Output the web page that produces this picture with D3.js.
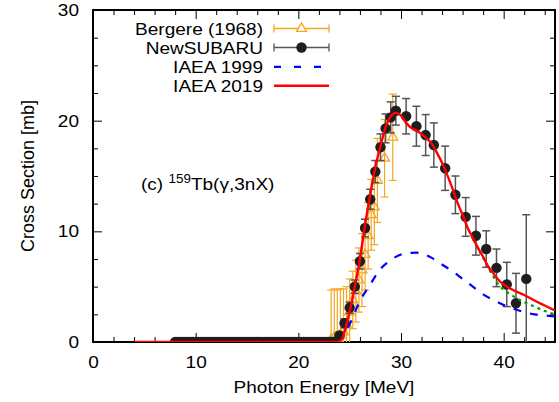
<!DOCTYPE html>
<html lang="en">
<head>
<meta charset="UTF-8">
<title>159Tb(g,3nX) cross section</title>
<script src="https://d3js.org/d3.v7.min.js"></script>
<style>
  body { margin: 0; background: #fff; }
  svg text { font-family: "Liberation Sans", Arial, sans-serif; fill: #000; }
  .axis path { display: none; }
  .axis line { stroke: #000; stroke-width: 1; }
  .axis text { font-size: 17px; }
</style>
</head>
<body>
<div id="chart"></div>
<script>
// NewSUBARU points that sit on zero below threshold
const nsZeroEnergy = [8, 8.25, 8.5, 8.75, 9, 9.25, 9.5, 9.75, 10, 10.25, 10.5, 10.75,
  11, 11.25, 11.5, 11.75, 12, 12.25, 12.5, 12.75, 13, 13.25, 13.5, 13.75, 14, 14.25,
  14.5, 14.75, 15, 15.25, 15.5, 15.75, 16, 16.25, 16.5, 16.75, 17, 17.25, 17.5, 17.75,
  18, 18.25, 18.5, 18.75, 19, 19.25, 19.5, 19.75, 20, 20.25, 20.5, 20.75, 21, 21.25,
  21.5, 21.75, 22, 22.25, 22.5, 22.75, 23, 23.25, 23.5];

// NewSUBARU above threshold
const nsEnergy = [24.0, 24.5, 25.0, 25.5, 26.0, 26.5, 27.0, 27.5, 28.0, 28.5, 29.0, 29.5,
  30.5, 31.5, 32.4, 33.2, 34.3, 35.3, 36.3, 37.3, 38.3, 39.3, 40.3, 41.2, 42.2];
const nsSigma = [0.6, 1.7, 3.1, 5.0, 7.3, 10.3, 12.9, 15.4, 17.6, 19.3, 20.3, 20.9,
  20.4, 19.5, 18.7, 17.8, 15.7, 13.3, 11.3, 9.6, 8.4, 6.7, 5.2, 3.5, 5.7];
const nsError = [0.3, 0.4, 0.5, 0.6, 0.7, 0.8, 0.9, 1.0, 1.2, 1.3, 1.4, 1.3,
  1.6, 1.8, 1.85, 2.0, 2.0, 1.7, 1.75, 1.75, 1.65, 1.7, 2.0, 2.7, 5.8];

// Bergere (1968)
const bgEnergy = [23.2, 23.5, 23.8, 24.1, 24.4, 24.7, 25.0, 25.3, 25.6, 25.9, 26.2,
  26.5, 26.8, 27.1, 27.4, 27.7, 28.4, 29.2];
const bgSigma = [0.2, 0.4, 0.3, 0.6, 0.9, 1.6, 2.7, 3.8, 4.6, 5.6, 6.5,
  7.9, 9.6, 11.5, 12.2, 14.6, 16.6, 18.5];
const bgError = [4.5, 4.4, 4.4, 4.2, 3.9, 3.4, 3.0, 2.6, 2.8, 2.9, 3.3,
  3.2, 3.0, 3.2, 3.4, 3.8, 3.5, 3.9];

// IAEA 1999 evaluation
const iaea1999Energy = [24.0, 24.5, 25.0, 26.0, 27.0, 28.0, 29.0, 30.0, 31.0, 31.5, 32.0,
  33.0, 34.0, 35.0, 36.0, 37.0, 38.0, 39.0, 40.0, 41.0, 42.0, 43.0, 44.0, 45.0];
const iaea1999Sigma = [0.0, 0.7, 1.6, 3.7, 5.2, 6.6, 7.4, 7.9, 8.05, 8.07, 8.0,
  7.6, 7.0, 6.4, 5.7, 5.0, 4.3, 3.8, 3.35, 3.0, 2.7, 2.5, 2.4, 2.3];

// IAEA 2019 evaluation
const iaea2019Energy = [4, 23.8, 24.2, 24.5, 24.8, 25.2, 25.5, 26.0, 26.5, 27.0, 27.5,
  28.0, 28.5, 29.0, 29.5, 30.0, 30.5, 31.0, 31.5, 32.0, 32.5, 33.0, 33.5, 34.0, 34.5,
  35.0, 35.5, 36.0, 36.5, 37.0, 37.5, 38.0, 38.5, 39.0, 39.5, 40.0, 40.5, 41.0, 42.0,
  43.0, 44.0, 45.0];
const iaea2019Sigma = [0, 0, 0.2, 0.9, 2.0, 3.6, 5.0, 7.5, 10.6, 13.3, 15.8,
  17.7, 19.4, 20.4, 20.7, 20.45, 19.8, 19.35, 19.1, 18.8, 18.4, 17.9, 17.1, 16.2, 15.1,
  13.9, 12.6, 11.5, 10.3, 9.4, 8.5, 7.7, 6.8, 6.2, 5.6, 5.2, 4.9, 4.65, 4.25,
  3.75, 3.3, 2.85];

// unlabelled green dotted curve
const greenEnergy = [37.0, 37.5, 38.0, 38.5, 39.0, 39.5, 40.0, 40.5, 41.0, 42.0, 43.0, 44.0, 45.0];
const greenSigma = [9.3, 8.4, 7.6, 6.7, 5.9, 5.2, 4.7, 4.4, 4.1, 3.6, 3.2, 2.8, 2.5];

const xMajor = [0, 10, 20, 30, 40];
const xMinor = [2, 4, 6, 8, 12, 14, 16, 18, 22, 24, 26, 28, 32, 34, 36, 38, 42, 44];
const yMajor = [0, 10, 20, 30];
const yMinor = [2.5, 5, 7.5, 12.5, 15, 17.5, 22.5, 25, 27.5];

const W = 559, H = 402;
const plot = { left: 93, right: 555, top: 10, bottom: 342 };
const stretch = 1.12; // the original lettering is a bit wider than Arial

const svg = d3.select("#chart").append("svg")
  .attr("width", W).attr("height", H);

const x = d3.scaleLinear().domain([0, 45]).range([plot.left, plot.right]);
const y = d3.scaleLinear().domain([0, 30]).range([plot.bottom, plot.top]);

svg.append("defs").append("clipPath").attr("id", "clip")
  .append("rect")
  .attr("x", plot.left).attr("y", plot.top)
  .attr("width", plot.right - plot.left).attr("height", plot.bottom - plot.top);

function widen(sel) {
  sel.selectAll("text").each(function() {
    const x0 = +this.getAttribute("x") || 0;
    d3.select(this).attr("x", 0).attr("transform", `translate(${x0},0) scale(${stretch},1)`);
  });
}

// axes: major and minor ticks point inward, mirrored on top and right
svg.append("g").attr("class", "axis")
  .attr("transform", `translate(0,${plot.bottom})`)
  .call(d3.axisBottom(x).tickValues(xMajor).tickSize(-9).tickPadding(14).tickFormat(d3.format("d")))
  .call(widen);
svg.append("g").attr("class", "axis")
  .attr("transform", `translate(0,${plot.bottom})`)
  .call(d3.axisBottom(x).tickValues(xMinor).tickSize(-5).tickFormat(""));
svg.append("g").attr("class", "axis")
  .attr("transform", `translate(0,${plot.top})`)
  .call(d3.axisTop(x).tickValues(xMajor).tickSize(-9).tickFormat(""));
svg.append("g").attr("class", "axis")
  .attr("transform", `translate(0,${plot.top})`)
  .call(d3.axisTop(x).tickValues(xMinor).tickSize(-5).tickFormat(""));

svg.append("g").attr("class", "axis")
  .attr("transform", `translate(${plot.left},0)`)
  .call(d3.axisLeft(y).tickValues(yMajor).tickSize(-9).tickPadding(14).tickFormat(d3.format("d")))
  .call(widen);
svg.append("g").attr("class", "axis")
  .attr("transform", `translate(${plot.left},0)`)
  .call(d3.axisLeft(y).tickValues(yMinor).tickSize(-5).tickFormat(""));
svg.append("g").attr("class", "axis")
  .attr("transform", `translate(${plot.right},0)`)
  .call(d3.axisRight(y).tickValues(yMajor).tickSize(-9).tickFormat(""));
svg.append("g").attr("class", "axis")
  .attr("transform", `translate(${plot.right},0)`)
  .call(d3.axisRight(y).tickValues(yMinor).tickSize(-5).tickFormat(""));

svg.append("rect")
  .attr("x", plot.left).attr("y", plot.top)
  .attr("width", plot.right - plot.left).attr("height", plot.bottom - plot.top)
  .attr("fill", "none").attr("stroke", "#000").attr("stroke-width", 2);

// axis titles
svg.append("text")
  .attr("transform", `translate(${(plot.left + plot.right) / 2},393) scale(${stretch},1)`)
  .attr("text-anchor", "middle").style("font-size", "17px")
  .text("Photon Energy [MeV]");
svg.append("text")
  .attr("transform", `translate(34,${(plot.top + plot.bottom) / 2}) rotate(-90)`)
  .attr("text-anchor", "middle").style("font-size", "18px")
  .text("Cross Section [mb]");

// annotation
const ann = svg.append("text")
  .attr("transform", `translate(141,190) scale(${stretch},1)`)
  .style("font-size", "17px");
ann.append("tspan").text("(c) ");
ann.append("tspan").attr("dy", -7).style("font-size", "12px").text("159");
ann.append("tspan").attr("dy", 7).text("Tb(γ,3nX)");

const g = svg.append("g").attr("clip-path", "url(#clip)");

const bergere = bgEnergy.map((e, i) => ({ e, s: bgSigma[i], err: bgError[i] }));
const subaru = nsZeroEnergy.map(e => ({ e, s: 0, err: 0 }))
  .concat(nsEnergy.map((e, i) => ({ e, s: nsSigma[i], err: nsError[i] })));

const orange = "#f5a623";
const cap = 4;

function errorBars(sel, data, color, width) {
  const eb = sel.append("g").selectAll("g").data(data.filter(d => d.err > 0)).join("g")
    .attr("stroke", color).attr("stroke-width", width);
  eb.append("line")
    .attr("x1", d => x(d.e)).attr("x2", d => x(d.e))
    .attr("y1", d => y(d.s - d.err)).attr("y2", d => y(d.s + d.err));
  eb.append("line")
    .attr("x1", d => x(d.e) - cap).attr("x2", d => x(d.e) + cap)
    .attr("y1", d => y(d.s + d.err)).attr("y2", d => y(d.s + d.err));
  eb.append("line")
    .attr("x1", d => x(d.e) - cap).attr("x2", d => x(d.e) + cap)
    .attr("y1", d => y(d.s - d.err)).attr("y2", d => y(d.s - d.err));
}

const triangle = d3.symbol().type(d3.symbolTriangle).size(42);

// Bergere
errorBars(g, bergere, orange, 1.2);
g.append("g").selectAll("path").data(bergere).join("path")
  .attr("transform", d => `translate(${x(d.e)},${y(d.s)})`)
  .attr("d", triangle)
  .attr("fill", "none").attr("stroke", orange).attr("stroke-width", 1.3);

// NewSUBARU
errorBars(g, subaru, "#555", 1.5);
g.append("g").selectAll("circle").data(subaru).join("circle")
  .attr("cx", d => x(d.e)).attr("cy", d => y(d.s)).attr("r", 5.2)
  .attr("fill", "#1e1e1e");

const line = d3.line().x(d => x(d[0])).y(d => y(d[1])).curve(d3.curveMonotoneX);

g.append("path")
  .datum(iaea1999Energy.map((e, i) => [e, iaea1999Sigma[i]]))
  .attr("d", line).attr("fill", "none")
  .attr("stroke", "#0000ff").attr("stroke-width", 2.2).attr("stroke-dasharray", "8,9");

g.append("path")
  .datum(greenEnergy.map((e, i) => [e, greenSigma[i]]))
  .attr("d", line).attr("fill", "none")
  .attr("stroke", "#00a000").attr("stroke-width", 2.2).attr("stroke-dasharray", "3,4");

g.append("path")
  .datum(iaea2019Energy.map((e, i) => [e, iaea2019Sigma[i]]))
  .attr("d", line).attr("fill", "none")
  .attr("stroke", "#ff0000").attr("stroke-width", 2.4);

// legend
const legend = svg.append("g");
const items = [
  { label: "Bergere (1968)", cy: 28.5, kind: "bergere" },
  { label: "NewSUBARU", cy: 47.5, kind: "subaru" },
  { label: "IAEA 1999", cy: 66.8, kind: "iaea1999" },
  { label: "IAEA 2019", cy: 85.8, kind: "iaea2019" }
];
const lx0 = 274, lx1 = 329, lxm = (lx0 + lx1) / 2;
items.forEach(it => {
  legend.append("text")
    .attr("transform", `translate(263,${it.cy + 6}) scale(${stretch},1)`)
    .attr("text-anchor", "end").style("font-size", "17px").text(it.label);
  if (it.kind === "bergere" || it.kind === "subaru") {
    const c = it.kind === "bergere" ? orange : "#555";
    const lg = legend.append("g").attr("stroke", c).attr("stroke-width", 1.3);
    lg.append("line").attr("x1", lx0).attr("x2", lx1).attr("y1", it.cy).attr("y2", it.cy);
    lg.append("line").attr("x1", lx0).attr("x2", lx0).attr("y1", it.cy - cap).attr("y2", it.cy + cap);
    lg.append("line").attr("x1", lx1).attr("x2", lx1).attr("y1", it.cy - cap).attr("y2", it.cy + cap);
    if (it.kind === "bergere") {
      legend.append("path").attr("transform", `translate(${lxm},${it.cy})`)
        .attr("d", triangle).attr("fill", "#fff").attr("stroke", orange).attr("stroke-width", 1.3);
    } else {
      legend.append("circle").attr("cx", lxm).attr("cy", it.cy).attr("r", 5.2).attr("fill", "#1e1e1e");
    }
  } else if (it.kind === "iaea1999") {
    legend.append("line").attr("x1", lx0).attr("x2", lx1).attr("y1", it.cy).attr("y2", it.cy)
      .attr("stroke", "#0000ff").attr("stroke-width", 2.2).attr("stroke-dasharray", "7,13");
  } else {
    legend.append("line").attr("x1", lx0).attr("x2", lx1).attr("y1", it.cy).attr("y2", it.cy)
      .attr("stroke", "#ff0000").attr("stroke-width", 2.4);
  }
});
</script>
</body>
</html>
